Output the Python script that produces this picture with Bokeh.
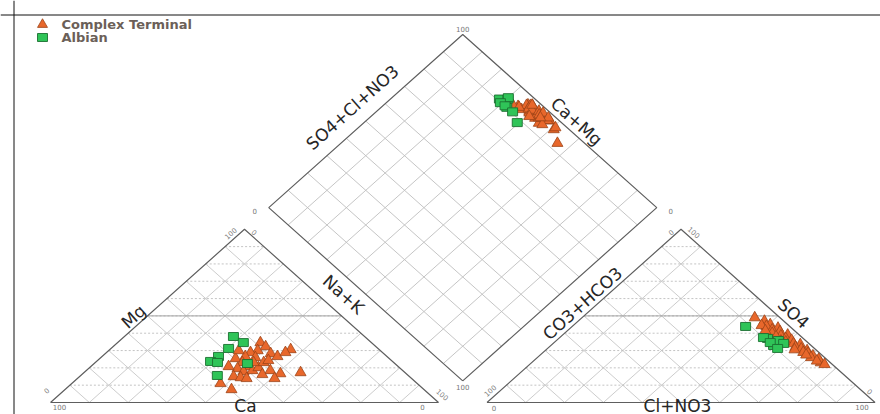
import math
from bokeh.plotting import figure
from bokeh.models import Range1d, Label, Span
from bokeh.embed import file_html
from bokeh.resources import INLINE

# ---- sample compositions (percent of meq) ----
# Complex Terminal
ct_ca = [28.6, 28.4, 31.6, 29.1, 28.2, 34.0, 34.2, 36.5, 39.6, 39.0, 38.6, 42.0, 41.3, 38.7, 45.3, 43.8,
         42.5, 36.3, 34.1, 32.4, 35.3, 50.7, 49.6, 33.5, 22.8, 26.9, 25.0, 36.1, 36.5, 43.7, 37.3, 31.7]
ct_mg = [34.6, 32.3, 30.0, 28.3, 26.6, 28.9, 26.0, 26.6, 25.4, 23.1, 20.8, 19.6, 17.9, 18.5, 15.0, 14.4,
         13.9, 20.2, 18.5, 16.7, 13.9, 11.0, 7.5, 23.1, 30.6, 17.3, 28.9, 23.1, 30.0, 20.8, 16.2, 24.3]
ct_nak = [36.8, 39.3, 38.4, 42.6, 45.2, 37.1, 39.8, 36.9, 35.0, 37.9, 40.6, 38.4, 40.8, 42.8, 39.7, 41.8,
          43.6, 43.5, 47.4, 50.9, 50.8, 38.3, 42.9, 43.4, 46.6, 55.8, 46.1, 40.8, 33.5, 35.5, 46.5, 44.0]
ct_so4 = [49.0, 47.0, 23.0, 45.0, 44.0, 43.0, 42.0, 41.0, 40.0, 39.0, 38.5, 37.0, 36.0, 35.0, 34.0, 33.5,
          32.0, 31.0, 30.0, 29.0, 28.5, 27.0, 26.0, 25.0, 24.0, 44.5, 22.0, 38.0, 41.5, 35.5, 30.5, 27.5]
ct_clno3 = [44.5, 48.0, 74.5, 50.5, 50.0, 53.5, 52.5, 55.0, 53.5, 58.0, 56.5, 58.5, 60.5, 59.5, 62.0, 64.0,
            63.5, 65.5, 67.5, 67.0, 68.5, 70.5, 70.5, 73.0, 73.0, 48.5, 76.0, 55.5, 51.0, 58.0, 64.0, 68.5]
ct_hco3 = [6.5, 5.0, 2.5, 4.5, 6.0, 3.5, 5.5, 4.0, 6.5, 3.0, 5.0, 4.5, 3.5, 5.5, 4.0, 2.5,
           4.5, 3.5, 2.5, 4.0, 3.0, 2.5, 3.5, 2.0, 3.0, 7.0, 2.0, 6.5, 7.5, 6.5, 5.5, 4.0]

# Albian
alb_ca = [33.8, 33.0, 38.5, 43.4, 46.9, 45.4, 49.2, 38.0]
alb_mg = [38.1, 34.6, 31.2, 26.6, 23.7, 23.1, 15.6, 22.5]
alb_nak = [28.1, 32.4, 30.3, 30.0, 29.4, 31.5, 35.2, 39.5]
alb_so4 = [37.0, 32.9, 35.8, 34.1, 37.5, 34.6, 31.2, 43.9]
alb_clno3 = [53.8, 57.4, 57.2, 59.4, 52.5, 55.7, 59.3, 44.7]
alb_hco3 = [9.2, 9.7, 7.0, 6.5, 10.0, 9.7, 9.5, 11.4]

series_names = ["Complex Terminal", "Albian"]

# ---- Piper geometry ----
GAP = 12.5                 # spacing between the two triangles
H = math.sqrt(3) / 2
PX_X, PX_Y = 3.88, 2.0     # screen pixels per data unit
OX, OY = 50, 402           # screen position of the cation-triangle origin
W, HT = 880, 414


def px(x_px, y_px):
    """screen position -> data coordinates"""
    return (x_px - OX) / PX_X, (OY - y_px) / PX_Y


def cation_xy(mg, nak):
    return [n + m / 2 for m, n in zip(mg, nak)], [m * H for m in mg]


def anion_xy(so4, cl):
    return [100 + GAP + c + s / 2 for s, c in zip(so4, cl)], [s * H for s in so4]


DB = (100 + GAP / 2, GAP * H)   # bottom corner of the diamond


def diamond_xy(ca, mg, so4, cl):
    xs, ys = [], []
    for a1, m1, s1, c1 in zip(ca, mg, so4, cl):
        c = a1 + m1
        a = s1 + c1
        xs.append(DB[0] + (a - c) / 2)
        ys.append(DB[1] + (a + c) * H)
    return xs, ys


p = figure(width=W, height=HT, x_range=Range1d(-OX / PX_X, (W - OX) / PX_X),
           y_range=Range1d((OY - HT) / PX_Y, OY / PX_Y), x_axis_type=None, y_axis_type=None,
           output_backend="svg", toolbar_location=None, min_border=0, title=None)
p.outline_line_color = None
p.grid.visible = False
p.background_fill_color = "white"

GRID = "#c6c6c6"
EDGE = "#5e5e5e"


def triangle_grid(x0):
    diag_x, diag_y, hor_x, hor_y = [], [], [], []
    for k in range(10, 100, 10):
        hor_x.append([x0 + k / 2, x0 + 100 - k / 2])
        hor_y.append([k * H, k * H])
        diag_x.append([x0 + k, x0 + k + (100 - k) / 2])
        diag_y.append([0, (100 - k) * H])
        diag_x.append([x0 + 100 - k, x0 + (100 - k) / 2])
        diag_y.append([0, (100 - k) * H])
    p.multi_line(diag_x, diag_y, line_color=GRID, line_width=0.9)
    p.multi_line(hor_x, hor_y, line_color="#bdbdbd", line_width=0.9, line_dash="2 2")
    p.line([x0 + 25, x0 + 75], [50 * H, 50 * H], line_color="#a4a4a4", line_width=1)
    p.line([x0, x0 + 100, x0 + 50, x0], [0, 0, 100 * H, 0], line_color=EDGE, line_width=1.2)


triangle_grid(0)
triangle_grid(100 + GAP)

# diamond
dx, dy = [], []
for k in range(10, 100, 10):
    sx, sy = DB[0] - k / 2, DB[1] + k * H
    dx.append([sx, sx + 50]); dy.append([sy, sy + 100 * H])
    sx, sy = DB[0] + k / 2, DB[1] + k * H
    dx.append([sx, sx - 50]); dy.append([sy, sy + 100 * H])
p.multi_line(dx, dy, line_color="#bebebe", line_width=0.9)
p.line([DB[0], DB[0] - 50, DB[0], DB[0] + 50, DB[0]],
       [DB[1], DB[1] + 100 * H, DB[1] + 200 * H, DB[1] + 100 * H, DB[1]],
       line_color=EDGE, line_width=1.2)

# ---- samples ----
ORANGE, ORANGE_EDGE = "#e8672b", "#9c4418"
GREEN, GREEN_EDGE = "#2fc458", "#1c6f31"

for (ca, mg, nak, so4, cl), kind in [((ct_ca, ct_mg, ct_nak, ct_so4, ct_clno3), "tri"),
                                     ((alb_ca, alb_mg, alb_nak, alb_so4, alb_clno3), "sq")]:
    for xs, ys in (cation_xy(mg, nak), anion_xy(so4, cl), diamond_xy(ca, mg, so4, cl)):
        if kind == "tri":
            p.scatter(xs, ys, marker="triangle", size=11, fill_color=ORANGE,
                      line_color=ORANGE_EDGE, line_width=0.8)
        else:
            p.rect(xs, ys, width=10, height=8, width_units="screen", height_units="screen",
                   fill_color=GREEN, line_color=GREEN_EDGE, line_width=0.9)

# ---- legend ----
lx, ly1 = px(42, 24)
_, ly2 = px(42, 37)
p.scatter([lx], [ly1], marker="triangle", size=10, fill_color=ORANGE,
          line_color=ORANGE_EDGE, line_width=0.8)
p.rect([lx], [ly2], width=10, height=8, width_units="screen", height_units="screen",
       fill_color=GREEN, line_color=GREEN_EDGE, line_width=0.9)
tx, _ = px(61, 0)
for name, yy in zip(series_names, (ly1, ly2)):
    p.add_layout(Label(x=tx, y=yy, text=name, text_font="DejaVu Sans", text_font_size="13px",
                       text_font_style="bold", text_color="#6b5f58", text_baseline="middle"))

# ---- frame ----
fx, fy = px(13.5, 14.5)
p.add_layout(Span(location=fx, dimension="height", line_color="#111111", line_width=1))
p.add_layout(Span(location=fy, dimension="width", line_color="#111111", line_width=1))

# ---- tick labels ----
theta = math.atan2(100 * H * PX_Y, 50 * PX_X)   # on-screen slope of the triangle sides
LA, LB, LC = (0, 0), (100, 0), (50, 100 * H)
RA, RB, RC = (100 + GAP, 0), (200 + GAP, 0), (150 + GAP, 100 * H)
DL, DR, DT = (DB[0] - 50, DB[1] + 100 * H), (DB[0] + 50, DB[1] + 100 * H), (DB[0], DB[1] + 200 * H)

ticks = [
    ("100", LA, 9, 4, 0), ("0", LA, -4, -12, theta),
    ("100", LC, -14, 4, theta), ("0", LC, 10, 3, -theta),
    ("0", LB, -16, 4, 0), ("100", LB, 4, -8, -theta),
    ("0", RA, 7, 5, 0), ("100", RA, 3, -12, theta),
    ("0", RC, -10, 3, theta), ("100", RC, 13, 3, -theta),
    ("0", RB, -5, -11, -theta), ("100", RB, -13, 4, 0),
    ("0", DL, -14, 3, 0), ("100", DT, 0, -5, 0),
    ("0", DR, 14, 3, 0), ("100", DB, 0, 6, 0),
]
for txt, (vx, vy), ox, oy, ang in ticks:
    p.add_layout(Label(x=vx + ox / PX_X, y=vy - oy / PX_Y, text=txt, angle=ang,
                       text_font="DejaVu Sans", text_font_size="7px", text_color="#777777",
                       text_align="center", text_baseline="middle"))

# ---- axis titles ----
titles = [
    ("Mg", (133, 316), theta, "17px"),
    ("Na+K", (343, 294), -theta, "17px"),
    ("Ca", (245, 405), 0, "17px"),
    ("CO3+HCO3", (582, 303), theta, "17px"),
    ("SO4", (793, 313), -theta, "17px"),
    ("Cl+NO3", (677, 405), 0, "17px"),
    ("SO4+Cl+NO3", (352, 107), theta, "17px"),
    ("Ca+Mg", (576, 121), -theta, "17px"),
]
for txt, (sx_, sy_), ang, fs in titles:
    x, y = px(sx_, sy_)
    p.add_layout(Label(x=x, y=y, text=txt, angle=ang, text_font="DejaVu Sans",
                       text_font_size=fs, text_color="#262626",
                       text_align="center", text_baseline="middle"))

open("out.html", "w").write(file_html(p, INLINE))
